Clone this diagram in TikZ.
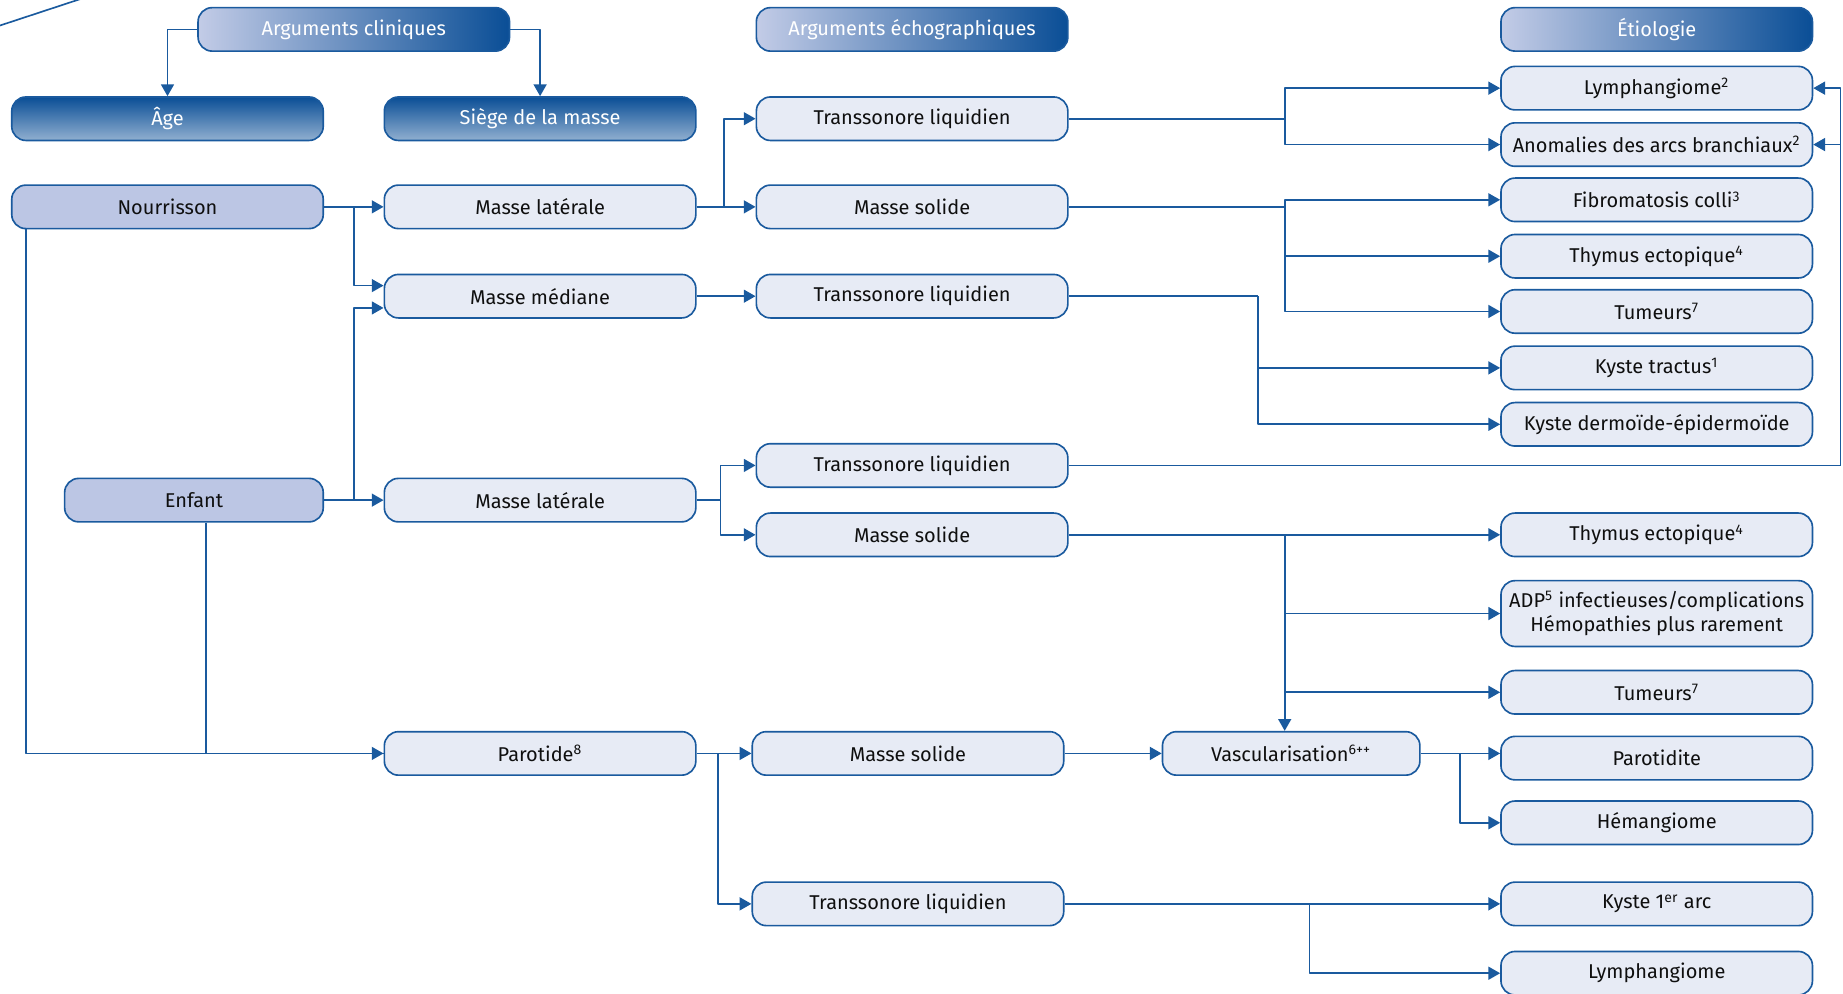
\documentclass[tikz,border=0pt]{standalone}
\usepackage{fontspec}
\setmainfont{Fira Sans}
\usetikzlibrary{arrows.meta}
\definecolor{bleu}{RGB}{26,90,158}
\definecolor{clair}{RGB}{231,235,245}
\definecolor{moyen}{RGB}{188,198,228}
\definecolor{fonce}{RGB}{10,78,150}
\definecolor{texte}{RGB}{15,15,15}
\begin{document}
\begin{tikzpicture}[x=0.5pt,y=-0.5pt,line join=round,
	boite/.style={draw=bleu,line width=0.7pt,rounded corners=6pt,fill=clair,
		minimum width=132.5pt,minimum height=18.5pt,inner sep=1pt,text=texte,
		font=\fontsize{8.5}{10.5}\selectfont,align=center},
	age/.style={boite,fill=moyen},
	titre/.style={boite,left color=moyen!90!white,right color=fonce,text=white},
	rubrique/.style={boite,top color=fonce,bottom color=fonce!45,text=white},
	fleche/.style={draw=bleu,line width=0.7pt,-{Triangle[length=5pt,width=5.5pt]}},
	trait/.style={draw=bleu,line width=0.7pt}]
	\def\xe{1409.5}% colonne etiologie
	\useasboundingbox (0,0) rectangle (1568,845);
	\draw[trait] (-10,25) -- (75,-3);
	%======== en-tetes
	\node[titre] (ac) at (301,25) {Arguments cliniques};
	\node[titre] (ae) at (776,25) {Arguments échographiques};
	\node[titre] (et) at (\xe,25) {Étiologie};
	\node[rubrique] (age) at (142.5,101) {Âge};
	\node[rubrique] (siege) at (459.5,101) {Siège de la masse};
	%======== arguments cliniques
	\node[age] (nour) at (142.5,176) {Nourrisson};
	\node[age,minimum width=110pt] (enf) at (165,425.5) {Enfant};
	\node[boite] (ml1) at (459.5,176) {Masse latérale};
	\node[boite] (mm) at (459.5,252) {Masse médiane};
	\node[boite] (ml2) at (459.5,425.5) {Masse latérale};
	\node[boite] (par) at (459.5,641) {Parotide\textsuperscript{8}};
	%======== arguments echographiques
	\node[boite] (tl1) at (776,101) {Transsonore liquidien};
	\node[boite] (ms1) at (776,176) {Masse solide};
	\node[boite] (tl2) at (776,252) {Transsonore liquidien};
	\node[boite] (tl3) at (776,396) {Transsonore liquidien};
	\node[boite] (ms2) at (776,455) {Masse solide};
	\node[boite] (ms3) at (772.5,641) {Masse solide};
	\node[boite] (tl4) at (772.5,769) {Transsonore liquidien};
	\node[boite,minimum width=109.5pt] (vasc) at (1098.5,641) {Vascularisation\textsuperscript{6++}};
	%======== etiologie
	\node[boite] (lym1) at (\xe,75) {Lymphangiome\textsuperscript{2}};
	\node[boite] (anom) at (\xe,123) {Anomalies des arcs branchiaux\textsuperscript{2}};
	\node[boite] (fib) at (\xe,170) {Fibromatosis colli\textsuperscript{3}};
	\node[boite] (thy1) at (\xe,218) {Thymus ectopique\textsuperscript{4}};
	\node[boite] (tum1) at (\xe,265) {Tumeurs\textsuperscript{7}};
	\node[boite] (kt) at (\xe,313) {Kyste tractus\textsuperscript{1}};
	\node[boite] (kd) at (\xe,361) {Kyste dermoïde-épidermoïde};
	\node[boite] (thy2) at (\xe,455) {Thymus ectopique\textsuperscript{4}};
	\node[boite,minimum height=28pt] (adp) at (\xe,522) {ADP\textsuperscript{5} infectieuses/complications\\Hémopathies plus rarement};
	\node[boite] (tum2) at (\xe,589) {Tumeurs\textsuperscript{7}};
	\node[boite] (parot) at (\xe,645) {Parotidite};
	\node[boite] (hem) at (\xe,700) {Hémangiome};
	\node[boite] (k1) at (\xe,769) {Kyste 1\textsuperscript{er} arc};
	\node[boite] (lym2) at (\xe,828) {Lymphangiome};
	%======== points de branchement
	\path
	(301,176) coordinate (j1)
	(301,425.5) coordinate (j2)
	(616,176) coordinate (j3)
	(613,425.5) coordinate (j4)
	(611,641) coordinate (j5)
	(1093,101) coordinate (j6)
	(1093,176) coordinate (j7)
	(1070,252) coordinate (j8)
	(1566,396) coordinate (j9)
	(1093,455) coordinate (j10)
	(1242,641) coordinate (j11)
	(1114,769) coordinate (j12)
	;
	%======== liaisons
	\draw[fleche] (ac.west) -| (age.north);
	\draw[fleche] (ac.east) -| (siege.north);
	\draw[fleche] (nour.east) -- (ml1.west);
	\draw[fleche] (j1) |- ([yshift=4.5pt]mm.west);
	\draw[fleche] (enf.east) -- (ml2.west);
	\draw[fleche] (j2) |- ([yshift=-5pt]mm.west);
	\draw[fleche] ([xshift=6.5pt]nour.south west) |- (par.west);
	\draw[trait] ([xshift=5pt]enf.south) |- (par.west);
	\draw[fleche] (ml1.east) -- (ms1.west);
	\draw[fleche] (j3) |- (tl1.west);
	\draw[fleche] (mm.east) -- (tl2.west);
	\draw[trait] (ml2.east) -- (j4);
	\draw[fleche] (j4) |- (tl3.west);
	\draw[fleche] (j4) |- (ms2.west);
	\draw[fleche] (par.east) -- (ms3.west);
	\draw[fleche] (j5) |- (tl4.west);
	\draw[trait] (tl1.east) -- (j6);
	\draw[fleche] (j6) |- (lym1.west);
	\draw[fleche] (j6) |- (anom.west);
	\draw[trait] (ms1.east) -- (j7);
	\draw[fleche] (j7) |- (fib.west);
	\draw[fleche] (j7) |- (thy1.west);
	\draw[fleche] (j7) |- (tum1.west);
	\draw[trait] (tl2.east) -| (j8);
	\draw[fleche] (j8) |- (kt.west);
	\draw[fleche] (j8) |- (kd.west);
	\draw[trait] (tl3.east) -- (j9);
	\draw[fleche] (j9) |- (lym1.east);
	\draw[fleche] (j9) |- (anom.east);
	\draw[fleche] (ms2.east) -- (thy2.west);
	\draw[fleche] (j10) |- (adp.west);
	\draw[fleche] (j10) |- (tum2.west);
	\draw[fleche] (j10) -- (j10 |- vasc.north);
	\draw[fleche] (ms3.east) -- (vasc.west);
	\draw[fleche] (vasc.east) -- (vasc.east -| parot.west);
	\draw[fleche] (j11) |- (hem.west);
	\draw[fleche] (tl4.east) -- (k1.west);
	\draw[fleche] (j12) |- (lym2.west);
\end{tikzpicture}
\end{document}
